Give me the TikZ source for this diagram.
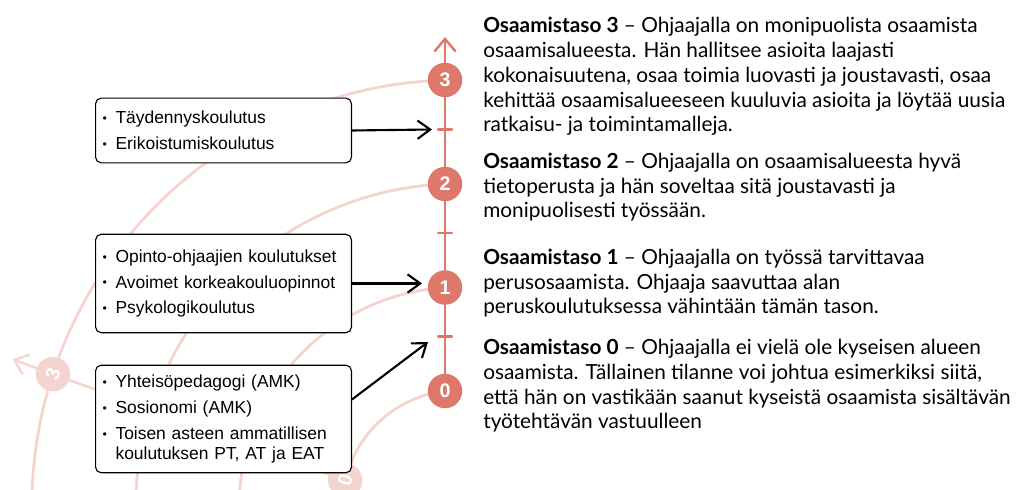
\documentclass[tikz,border=0pt]{standalone}
\usepackage{fontspec}
\setmainfont{Lato}
\newfontfamily\listfont{Liberation Sans}
\usetikzlibrary{arrows.meta,calc}

\definecolor{levelred}{RGB}{222,120,106}
\colorlet{levelfade}{levelred!32!white}

\newcommand{\itm}{\makebox[9.2pt][l]{\raisebox{0.8pt}{\scalebox{0.7}{\textbullet}}}}
% one level axis: colour, name prefix
\newcommand{\levelaxis}[2]{%
	\draw[#1,axis line,-{Straight Barb[length=9pt,width=15pt]}] (445,391) -- (445,37);
	\foreach \y in {129.5,233,336.5}
		\draw[#1,axis line] (438,\y) -- (452,\y);
	\foreach \k/\y in {0/391,1/287.5,2/184,3/80}
		\node[level dot,fill=#1] (#2\k) at (445,\y) {\k};
}

\begin{document}
\begin{tikzpicture}
		[x=0.025cm,y=-0.025cm,line cap=round,
		%Styles
		axis line/.style={line width=1.7pt},
		level dot/.style={circle,inner sep=0pt,minimum size=24.5pt,text=white,font=\listfont\bfseries\fontsize{14}{14}\selectfont},
		course box/.style={draw,fill=white,rounded corners=4pt,line width=0.8pt,anchor=west,inner xsep=5pt,text width=172pt,align=left,font=\listfont\fontsize{12.4}{14.2}\selectfont},
		feed arrow/.style={-{Straight Barb[length=9pt,width=13pt]},line width=1.5pt},
		level text/.style={anchor=base west,inner sep=0pt,align=left,font=\fontsize{14.8}{17.7}\selectfont}
		]
		\useasboundingbox (0,0) rectangle (1019,490);
		
		%Background: arcs and the turned axis
		\begin{scope}
			\clip (0,0) rectangle (445,490);
			\foreach \r in {116.8,219.9,323.3,427.2}
				\draw[levelfade,line width=2pt] (459,507) circle[radius=\r];
		\end{scope}
		\begin{scope}[rotate around={70:(459,507)},transform shape]
			\levelaxis{levelfade}{g}
		\end{scope}
		
		%Course boxes
		\node[course box,minimum height=46pt] (further) at (95,130.5)
			{\itm Täydennyskoulutus\\[4.2pt]\itm Erikoistumiskoulutus};
		\node[course box,minimum height=70pt] (uni) at (95,283.5)
			{\itm Opinto-ohjaajien koulutukset\\[4.2pt]\itm Avoimet korkeakouluopinnot\\[4.2pt]\itm Psykologikoulutus};
		\node[course box,minimum height=76.5pt] (basic) at (95,419)
			{\itm Yhteisöpedagogi (AMK)\\[4.2pt]\itm Sosionomi (AMK)\\[4.2pt]\itm Toisen asteen ammatillisen\\\hspace*{9.2pt}koulutuksen PT, AT ja EAT};
		
		%The axis
		\levelaxis{levelred}{l}
		
		%Arrows
		\coordinate (t3) at (432,129.5);
		\coordinate (t1) at (422,283.5);
		\coordinate (t0) at (428,342);
		\draw[feed arrow] (further.east) -- (t3);
		\draw[feed arrow] (uni.east) -- (t1);
		\draw[feed arrow] ($(basic.north east)!0.32!(basic.south east)$) -- (t0);
		
		%Level texts (placed at their last baseline)
		\node[level text] (txt3) at (483,132) {\textbf{Osaamistaso 3} – Ohjaajalla on monipuolista osaamista\\osaamisalueesta. Hän hallitsee asioita laajasti\\kokonaisuutena, osaa toimia luovasti ja joustavasti, osaa\\kehittää osaamisalueeseen kuuluvia asioita ja löytää uusia\\ratkaisu- ja toimintamalleja.};
		\node[level text] (txt2) at (483,218) {\textbf{Osaamistaso 2} – Ohjaajalla on osaamisalueesta hyvä\\tietoperusta ja hän soveltaa sitä joustavasti ja\\monipuolisesti työssään.};
		\node[level text] (txt1) at (483,314) {\textbf{Osaamistaso 1} – Ohjaajalla on työssä tarvittavaa\\perusosaamista. Ohjaaja saavuttaa alan\\peruskoulutuksessa vähintään tämän tason.};
		\node[level text] (txt0) at (483,429) {\textbf{Osaamistaso 0} – Ohjaajalla ei vielä ole kyseisen alueen\\osaamista. Tällainen tilanne voi johtua esimerkiksi siitä,\\että hän on vastikään saanut kyseistä osaamista sisältävän\\työtehtävän vastuulleen};
\end{tikzpicture}
\end{document}
